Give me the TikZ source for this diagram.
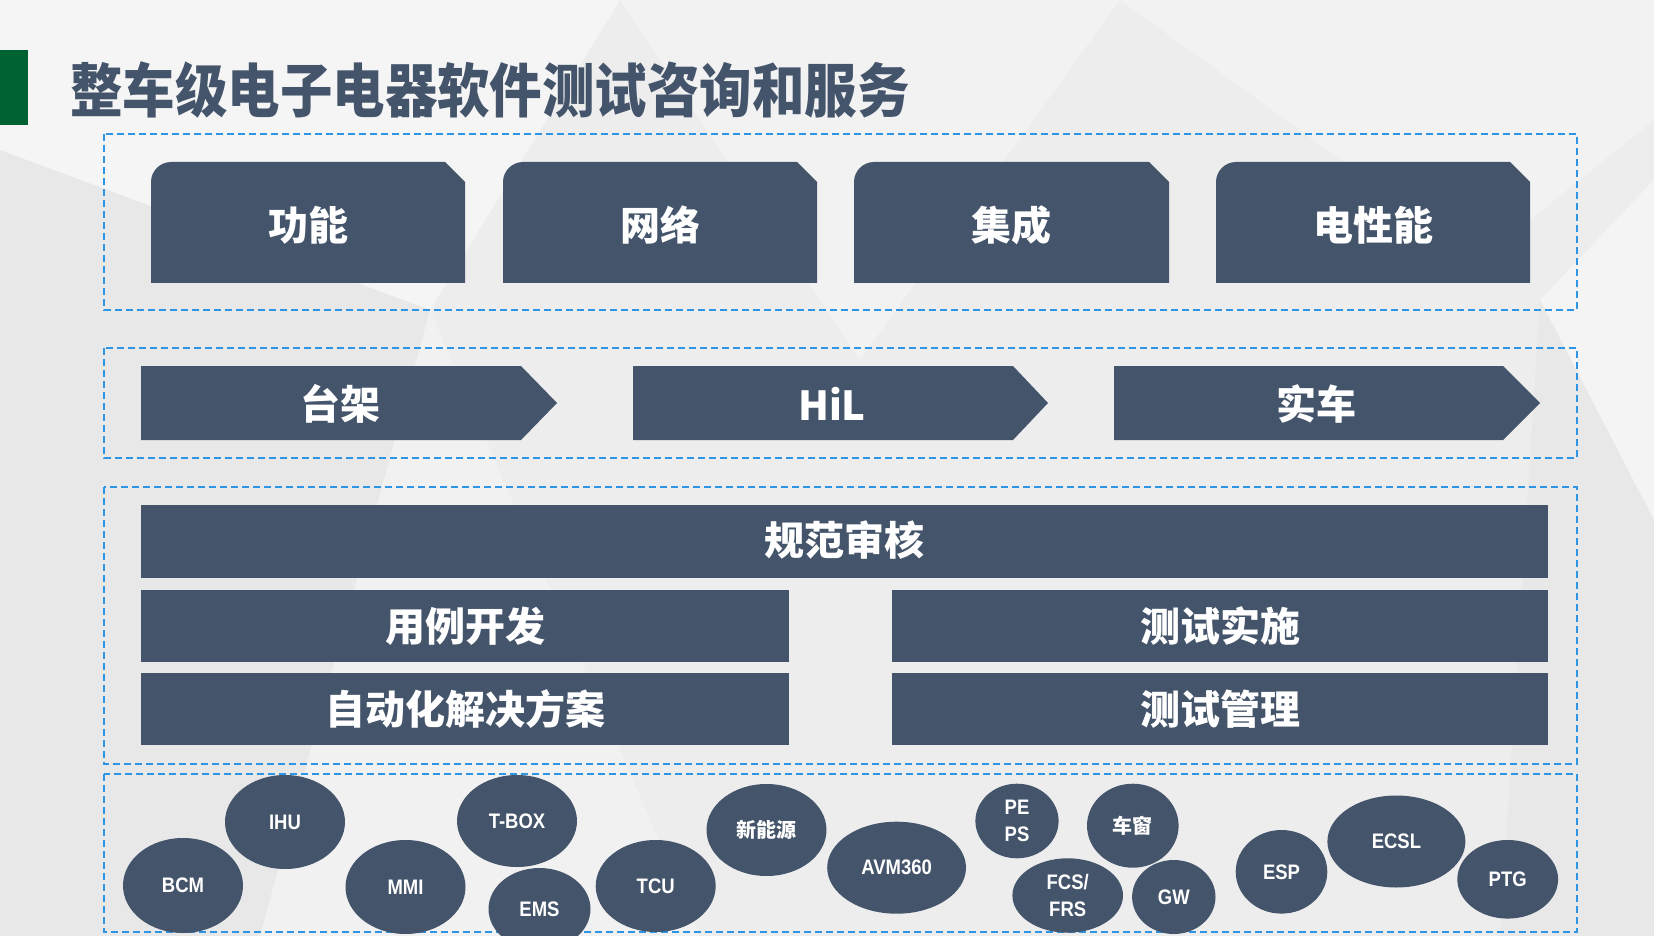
\documentclass[tikz,border=0pt]{standalone}
\usepackage{fontspec}
\setmainfont{Liberation Sans}
\newfontfamily\cjk{Noto Sans CJK SC}
\newfontfamily\cjktitle{Noto Sans CJK SC}[FakeStretch=0.895]
\newfontfamily\narrowsans{Liberation Sans}[FakeStretch=0.88]
\usetikzlibrary{shapes.geometric}

\definecolor{slate}{RGB}{68,84,106}
\definecolor{dblue}{RGB}{44,150,228}
\definecolor{dgreen}{RGB}{0,98,51}
\definecolor{bgc}{RGB}{237,237,238}

\tikzset{
  dashbox/.style={draw=dblue, line width=0.8pt, dash pattern=on 3.5pt off 2pt},
  bigtxt/.style={text=white, font=\cjk\bfseries\fontsize{20}{22}\selectfont, inner sep=0pt},
  barbox/.style={fill=slate, inner sep=0pt, text=white, font=\cjk\bfseries\fontsize{20}{22}\selectfont, minimum height=36pt},
  ecu/.style={ellipse, fill=slate, inner sep=0pt, text=white, align=center,
    font=\narrowsans\bfseries\fontsize{10.5}{13.5}\selectfont},
  ecucn/.style={ecu, font=\cjk\bfseries\fontsize{10}{12}\selectfont}
}

\newcommand\topbox[4]{%
  \fill[slate] (#2,283) -- (#2,182) .. controls (#2,171) and ({#2+9},162) .. ({#2+20},162)
     -- ({#3-20},162) -- (#3,182) -- (#3,283) -- cycle;
  \node[bigtxt] (#1) at ({(#2+#3)/2},225) {#4};}
\newcommand\arrowbox[6]{%
  \fill[slate] (#2,366) -- (#3,366) -- (#4,403) -- (#3,440) -- (#2,440) -- cycle;
  \node[bigtxt] (#1) at (#5,404) {#6};}

\begin{document}
\begin{tikzpicture}[x=0.5pt,y=-0.5pt]
\useasboundingbox (0,0) rectangle (1654,936);
\clip (0,0) rectangle (1654,936);
% background
\fill[bgc] (0,0) rectangle (1654,936);
\fill[white,opacity=0.45] (0,0) -- (620,0) -- (430,310) -- (0,150) -- cycle;
\fill[white,opacity=0.3] (620,0) -- (1120,0) -- (860,360) -- cycle;
\fill[black,opacity=0.02] (0,150) -- (430,310) -- (260,936) -- (0,936) -- cycle;
\fill[white,opacity=0.3] (1120,0) -- (1654,0) -- (1654,120) -- (1480,260) -- cycle;
\fill[white,opacity=0.4] (1540,300) -- (1654,180) -- (1654,520) -- cycle;
\fill[black,opacity=0.02] (1540,300) -- (1654,520) -- (1654,936) -- (1500,936) -- cycle;
\fill[white,opacity=0.25] (260,936) -- (430,310) -- (700,936) -- cycle;

% title
\fill[dgreen] (0,50) rectangle (28,125);
\node[anchor=west, text=slate, inner sep=0pt, font=\cjktitle\bfseries\fontsize{29.3}{31}\selectfont] (title) at (70,90) {整车级电子电器软件测试咨询和服务};

% dashed frames
\draw[dashbox] (104,134) rectangle (1577,310);
\draw[dashbox] (104,348) rectangle (1577,458);
\draw[dashbox] (104,487) rectangle (1577,764);
\draw[dashbox] (104,774) rectangle (1577,932);

% row 1
\topbox{gn}{151}{465}{功能}
\topbox{wl}{503}{817}{网络}
\topbox{jc}{854}{1169}{集成}
\topbox{dxn}{1216}{1530}{电性能}

% row 2
\arrowbox{tj}{141}{521}{557}{340}{台架}
\arrowbox{hil}{633}{1013}{1048}{832}{HiL}
\arrowbox{sc}{1114}{1503}{1540}{1316}{实车}

% row 3
\node[barbox, minimum width=703.5pt, minimum height=36.5pt, text height=15.5pt] (gfsh) at (844.5,541.5) {规范审核};
\node[barbox, minimum width=324pt] (ylkf) at (465,626) {用例开发};
\node[barbox, minimum width=328pt] (cssh) at (1220,626) {测试实施};
\node[barbox, minimum width=324pt] (zdh) at (465,709) {自动化解决方案};
\node[barbox, minimum width=328pt] (csgl) at (1220,709) {测试管理};

% row 4
\node[ecu, minimum width=60pt, minimum height=47.5pt] (bcm) at (183,885.5) {BCM};
\node[ecu, minimum width=60pt, minimum height=47pt] (ihu) at (285,822) {IHU};
\node[ecu, minimum width=60pt, minimum height=47pt] (mmi) at (405.5,887) {MMI};
\node[ecu, minimum width=60pt, minimum height=46pt] (tbox) at (517,821) {T-BOX};
\node[ecu, minimum width=51pt, minimum height=41pt] (ems) at (539.5,909) {EMS};
\node[ecu, minimum width=60pt, minimum height=46pt] (tcu) at (655.7,886) {TCU};
\node[ecucn, minimum width=60pt, minimum height=46pt] (xny) at (766.5,830) {新能源};
\node[ecu, minimum width=69.4pt, minimum height=46pt] (avm) at (896.6,867.7) {AVM360};
\node[ecu, minimum width=41.6pt, minimum height=37.3pt] (peps) at (1017,821) {PE\\PS};
\node[ecucn, minimum width=45.8pt, minimum height=42pt] (cc) at (1132.8,825.7) {车窗};
\node[ecu, minimum width=55.3pt, minimum height=37.2pt] (fcs) at (1067.7,895.5) {FCS/\\FRS};
\node[ecu, minimum width=41.7pt, minimum height=37pt] (gw) at (1173.8,897) {GW};
\node[ecu, minimum width=45.8pt, minimum height=41.8pt] (esp) at (1281.5,871.8) {ESP};
\node[ecu, minimum width=69pt, minimum height=46pt] (ecsl) at (1396.4,841.5) {ECSL};
\node[ecu, minimum width=50.4pt, minimum height=39.3pt] (ptg) at (1507.7,879.3) {PTG};
\end{tikzpicture}
\end{document}
